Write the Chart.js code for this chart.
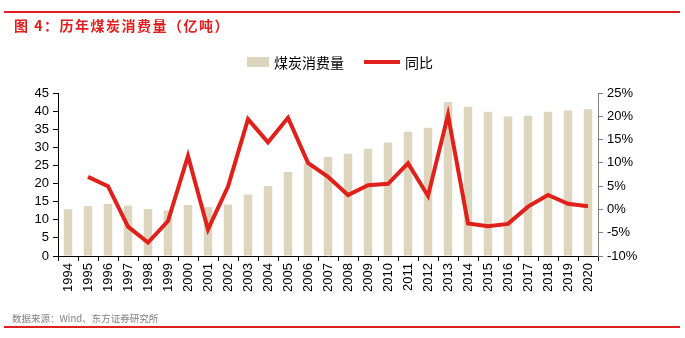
<!DOCTYPE html>
<html>
<head>
<meta charset="utf-8">
<script src="https://cdn.jsdelivr.net/npm/chart.js@4"></script>
<style>
  body { margin: 0; width: 685px; height: 338px; position: relative; background: #fff; overflow: hidden; }
  #chartBox { position: absolute; left: 0; top: 0; width: 685px; height: 338px; }
  .rule { position: absolute; left: 4px; width: 676px; height: 2px; background: #e02020; }
  #title { position: absolute; left: 14px; top: 15px; font: bold 14px "Noto Sans CJK SC"; letter-spacing: 1.5px; color: #e02020; }
  #source { position: absolute; left: 12px; top: 311px; font: 9.5px "Noto Sans CJK SC"; color: #808080; }
  #legend { position: absolute; top: 52px; left: 247px; font: 14px "Noto Sans CJK SC"; color: #000; display: flex; align-items: center; }
  .swatch { display: inline-block; }
</style>
</head>
<body>
<div id="chartBox"><canvas id="coalChart"></canvas></div>
<div class="rule" style="top:11px"></div>
<div class="rule" style="top:326px"></div>
<div id="title">图 4：历年煤炭消费量（亿吨）</div>
<div id="legend">
  <span class="swatch" style="width:22px;height:10px;background:#ded5bf;margin-right:5px"></span>煤炭消费量
  <span class="swatch" style="width:36px;height:4px;background:#e0201b;margin:0 5px 0 20px"></span>同比
</div>
<div id="source">数据来源：Wind、东方证券研究所</div>
<script>
const years = ["1994","1995","1996","1997","1998","1999","2000","2001","2002","2003","2004","2005","2006","2007",
  "2008","2009","2010","2011","2012","2013","2014","2015","2016","2017","2018","2019","2020"];
const consumption = [12.9, 13.8, 14.4, 13.9, 13.0, 12.6, 14.1, 13.5, 14.2, 16.9, 19.3, 23.2, 25.7, 27.3,
  28.2, 29.6, 31.3, 34.3, 35.4, 42.5, 41.2, 39.8, 38.5, 38.7, 39.8, 40.2, 40.5];
const yoy = [null, 7.0, 5.0, -3.7, -7.1, -2.5, 11.5, -4.3, 4.9, 19.4, 14.4, 19.7, 10.0, 7.0,
  3.1, 5.2, 5.5, 9.9, 2.9, 20.3, -3.0, -3.6, -3.1, 0.6, 3.1, 1.2, 0.7];

const tickFont = { family: "Liberation Sans", size: 13 };

new Chart(document.getElementById("coalChart").getContext("2d"), {
  data: {
    labels: years,
    datasets: [
      {
        type: "line",
        label: "同比",
        data: yoy,
        yAxisID: "yRight",
        borderColor: "#e0201b",
        borderWidth: 4,
        pointRadius: 0,
        tension: 0,
        fill: false,
        order: 0,
      },
      {
        type: "bar",
        label: "煤炭消费量",
        data: consumption,
        yAxisID: "yLeft",
        backgroundColor: "#ded5bf",
        barPercentage: 0.85,
        categoryPercentage: 0.5,
        order: 1,
      },
    ],
  },
  options: {
    responsive: true,
    maintainAspectRatio: false,
    animation: false,
    layout: { padding: { top: 93, right: 0, left: 0, bottom: 0 } },
    plugins: { legend: { display: false }, tooltip: { enabled: false } },
    scales: {
      x: {
        offset: true,
        grid: { offset: true, drawOnChartArea: false, tickLength: 5, color: "#000" },
        border: { color: "#000" },
        ticks: { font: tickFont, color: "#000", minRotation: 90, maxRotation: 90, padding: 2, autoSkip: false },
        afterFit: (s) => { s.height = 82; },
      },
      yLeft: {
        position: "left",
        min: 0, max: 45,
        ticks: { stepSize: 5, autoSkip: false, font: tickFont, color: "#000", padding: 4 },
        grid: { drawOnChartArea: false, tickLength: 5, color: "#000" },
        border: { color: "#000" },
        afterFit: (s) => { s.width = 58; },
      },
      yRight: {
        position: "right",
        min: -10, max: 25,
        ticks: { stepSize: 5, autoSkip: false, font: tickFont, color: "#000", padding: 4, callback: (v) => v + "%" },
        grid: { drawOnChartArea: false, tickLength: 5, color: "#808080" },
        border: { color: "#808080" },
        afterFit: (s) => { s.width = 87; },
      },
    },
  },
});
</script>
</body>
</html>
